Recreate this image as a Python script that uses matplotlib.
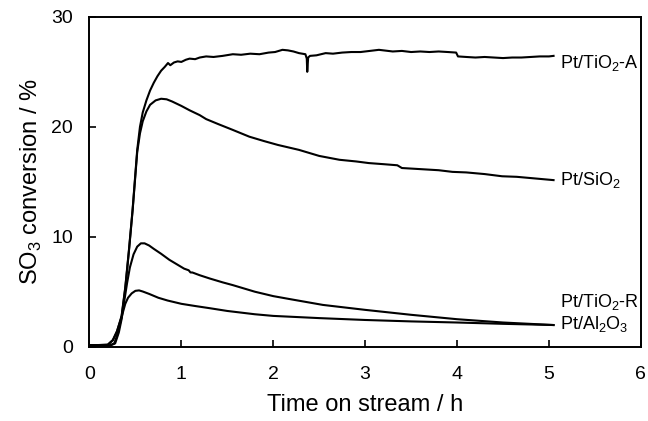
import numpy as np
import matplotlib
matplotlib.use("Agg")
import matplotlib.pyplot as plt

plt.rcParams['font.family'] = ['Liberation Sans', 'DejaVu Sans']
plt.rcParams['mathtext.fontset'] = 'custom'
plt.rcParams['mathtext.rm'] = 'Liberation Sans'

# Pt/TiO2-A
t_tio2a = [0.0, 0.1, 0.2, 0.255, 0.3, 0.35, 0.39, 0.43, 0.47, 0.52, 0.55, 0.58,
           0.62, 0.66, 0.7, 0.74, 0.78, 0.82, 0.855, 0.88, 0.92, 0.96, 1.0, 1.05,
           1.09, 1.15, 1.2, 1.27, 1.35, 1.45, 1.56, 1.65, 1.75, 1.85, 1.95, 2.02,
           2.1, 2.16, 2.22, 2.28, 2.35, 2.365, 2.37, 2.38, 2.4, 2.47, 2.57, 2.65,
           2.75, 2.85, 2.95, 3.05, 3.15, 3.2, 3.3, 3.4, 3.5, 3.6, 3.7, 3.8, 3.9,
           3.99, 4.01, 4.1, 4.2, 4.3, 4.4, 4.5, 4.6, 4.7, 4.8, 4.9, 5.0, 5.05]
y_tio2a = [0.15, 0.15, 0.2, 0.6, 1.4, 2.8, 5.4, 8.8, 12.5, 17.9, 20.0, 21.3,
           22.4, 23.3, 24.0, 24.6, 25.1, 25.45, 25.8, 25.6, 25.85, 25.95, 25.9,
           26.1, 26.2, 26.15, 26.3, 26.4, 26.35, 26.45, 26.6, 26.55, 26.65, 26.6,
           26.75, 26.8, 27.0, 26.95, 26.85, 26.7, 26.6, 26.2, 25.0, 26.3, 26.45,
           26.5, 26.7, 26.65, 26.75, 26.8, 26.8, 26.9, 27.0, 26.95, 26.85, 26.9,
           26.8, 26.85, 26.8, 26.85, 26.8, 26.75, 26.4, 26.35, 26.3, 26.35, 26.3,
           26.25, 26.3, 26.3, 26.35, 26.4, 26.4, 26.45]

# Pt/SiO2
t_sio2 = [0.0, 0.1, 0.2, 0.255, 0.3, 0.35, 0.39, 0.43, 0.47, 0.52, 0.55, 0.58,
          0.62, 0.66, 0.72, 0.78, 0.84, 0.9, 1.0, 1.09, 1.2, 1.27, 1.4, 1.55, 1.74,
          1.9, 2.05, 2.28, 2.5, 2.72, 2.9, 3.04, 3.2, 3.35, 3.4, 3.6, 3.8, 3.95,
          4.1, 4.3, 4.49, 4.65, 4.85, 5.05]
y_sio2 = [0.1, 0.1, 0.15, 0.6, 1.4, 2.7, 5.3, 8.7, 12.4, 17.7, 19.4, 20.5,
          21.4, 22.0, 22.4, 22.55, 22.5, 22.3, 21.9, 21.5, 21.06, 20.7, 20.25,
          19.75, 19.1, 18.7, 18.35, 17.9, 17.35, 17.0, 16.85, 16.7, 16.6, 16.5,
          16.25, 16.15, 16.05, 15.9, 15.85, 15.7, 15.5, 15.45, 15.3, 15.15]

# Pt/TiO2-R
t_tio2r = [0.0, 0.15, 0.22, 0.28, 0.32, 0.35, 0.38, 0.41, 0.44, 0.48, 0.52, 0.56,
           0.6, 0.65, 0.7, 0.78, 0.87, 0.95, 1.03, 1.08, 1.1, 1.12, 1.2, 1.31,
           1.45, 1.56, 1.8, 2.0, 2.2, 2.54, 3.0, 3.5, 4.0, 4.5, 5.05]
y_tio2r = [0.05, 0.05, 0.08, 0.3, 1.3, 2.5, 4.2, 5.8, 7.2, 8.4, 9.1, 9.4,
           9.4, 9.2, 8.9, 8.45, 7.9, 7.5, 7.1, 6.95, 6.75, 6.75, 6.5, 6.2, 5.85,
           5.6, 5.0, 4.6, 4.3, 3.8, 3.35, 2.9, 2.5, 2.2, 1.97]

# Pt/Al2O3
t_al2o3 = [0.0, 0.2, 0.27, 0.3, 0.33, 0.36, 0.39, 0.42, 0.46, 0.5, 0.54, 0.58,
           0.65, 0.75, 0.85, 1.0, 1.15, 1.31, 1.5, 1.8, 2.0, 2.5, 3.0, 3.5, 4.0,
           4.5, 5.05]
y_al2o3 = [0.05, 0.05, 0.3, 1.0, 2.0, 3.0, 3.9, 4.45, 4.85, 5.08, 5.12, 5.02,
           4.8, 4.45, 4.2, 3.9, 3.7, 3.5, 3.25, 2.95, 2.8, 2.6, 2.43, 2.3, 2.2,
           2.08, 1.97]

labels = ['Pt/TiO$_\\mathregular{2}$-A', 'Pt/SiO$_\\mathregular{2}$',
          'Pt/TiO$_\\mathregular{2}$-R', 'Pt/Al$_\\mathregular{2}$O$_\\mathregular{3}$']
label_y = [25.8, 15.2, 4.1, 2.1]

fig = plt.figure(figsize=(6.48, 4.21), dpi=100)
ax = fig.add_axes([0.138, 0.1765, 0.851, 0.7835])

series = [(t_tio2a, y_tio2a), (t_sio2, y_sio2), (t_tio2r, y_tio2r), (t_al2o3, y_al2o3)]
for (t, y), lab, ly in zip(series, labels, label_y):
    ax.plot(t, y, color='black', lw=1.5, solid_joinstyle='round')
    ax.text(t[-1] + 0.07, ly, lab, fontsize=13, ha='left', va='center')

ax.set_xlim(0, 6)
ax.set_ylim(0, 30)
ax.set_xticks(range(0, 7))
ax.set_yticks([0, 10, 20, 30])
ax.tick_params(direction='in', length=5, width=1.2, labelsize=14, pad=12)
ax.tick_params(axis='x', pad=14)
for s in ax.spines.values():
    s.set_linewidth(1.4)

ax.set_xlabel('Time on stream / h', fontsize=17, labelpad=8)
ax.set_ylabel('SO$_\\mathregular{3}$ conversion / %', fontsize=17, labelpad=5)

fig.savefig('out.png', dpi=100)
